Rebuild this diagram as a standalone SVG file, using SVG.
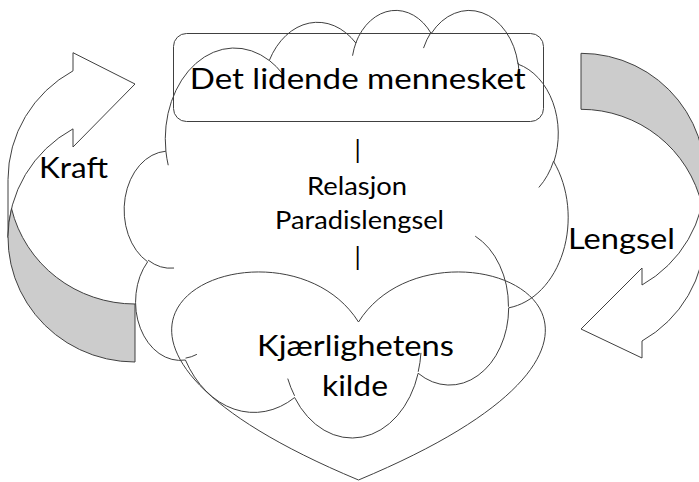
<svg xmlns="http://www.w3.org/2000/svg" width="699" height="482" viewBox="0 0 699 482">
<style>
.ln{fill:none;stroke:#404040;stroke-width:1}
.cl{fill:none;stroke:#404040;stroke-width:1;vector-effect:non-scaling-stroke}
.front{fill:#ffffff;stroke:#404040;stroke-width:1;stroke-linejoin:miter}
.back{fill:#cccccc;stroke:#404040;stroke-width:1}
.t{font-family:Lato,"Liberation Sans",sans-serif;fill:#000;text-anchor:middle}
.big{font-size:28px}
.mid{font-size:25px}
</style>
<rect width="699" height="482" fill="#fff"/>
<g id="connectors">
  <g id="arrow-kraft">
    <path class="front" d="M8 237.5 A127 124.5 0 0 1 73 128.85 L73 147 L135 84 L73 52.7 L73 70.85 A127 124.5 0 0 0 8 179.5 Z"/>
    <path class="back" d="M135 304 A127 124.5 0 0 1 11.5 208.5 A127 124.5 0 0 0 135 362 Z"/>
  </g>
  <g id="arrow-lengsel">
    <path class="front" d="M705.1 177.15 A124.1 123.85 0 0 1 642 285 L642 268 L581 329 L642 358 L642 341 A124.1 123.85 0 0 0 705.1 233.15 Z"/>
    <path class="back" d="M581 109.3 A124.1 123.85 0 0 1 701.9 205.15 A124.1 123.85 0 0 0 581 53.3 Z"/>
  </g>
</g>
<g id="cloud" transform="translate(126 9) scale(0.0102315 0.0098958)">
  <path class="cl" d="M3900 14370 A6753 9190 0 0 1 14005 5202 A5333 7267 0 0 1 22457 3432 A4365 5945 0 0 1 29833 2479 A4857 6595 0 0 1 38318 5573 A5333 7273 0 0 1 41818 15457 A6775 9220 0 0 1 37403 30198 A5785 7867 0 0 1 28555 36809 A6752 9215 0 0 1 16481 39262 A7720 10543 0 0 1 5805 35470 A4360 5918 0 0 1 2114 25547 A4345 5945 0 0 1 3900 14370 Z"/>
  <path class="cl" d="M4693 26177 A4345 5945 0 0 1 2160 25380 M6928 34899 A4360 5918 0 0 1 5819 35281 M16478 39090 A6752 9215 0 0 1 15809 37349 M28827 34751 A6752 9215 0 0 1 28560 36660 M34129 22954 A5785 7867 0 0 1 37381 30090 M41798 15354 A5333 7273 0 0 1 40349 18032 M38324 5426 A4857 6595 0 0 1 38400 6690 M29078 3952 A4857 6595 0 0 1 29820 2340 M22141 4720 A4365 5945 0 0 1 22500 3332 M14000 5192 A6753 9190 0 0 1 15301 6542 M4127 15789 A6753 9190 0 0 1 3900 14370"/>
</g>
<g id="title-box">
  <rect class="ln" x="173.5" y="33.5" width="370" height="88" rx="13" ry="13"/>
  <text class="t big" x="357.7" y="89" textLength="336" lengthAdjust="spacingAndGlyphs">Det lidende mennesket</text>
</g>
<g id="middle-text">
  <text class="t mid" x="357.7" y="159">|</text>
  <text class="t mid" x="357" y="195" textLength="100" lengthAdjust="spacingAndGlyphs">Relasjon</text>
  <text class="t mid" x="359.5" y="229" textLength="169" lengthAdjust="spacingAndGlyphs">Paradislengsel</text>
  <text class="t mid" x="357.7" y="266">|</text>
</g>
<g id="heart">
  <path class="ln" d="M358.5 322 C435.8 199.1 737.2 322 358.5 480 C-20.2 322 281.2 199.1 358.5 322 Z"/>
  <text class="t big" x="355.5" y="356" textLength="197" lengthAdjust="spacingAndGlyphs">Kjærlighetens</text>
  <text class="t big" x="355" y="396" textLength="66" lengthAdjust="spacingAndGlyphs">kilde</text>
</g>
<g id="label-kraft">
  <text class="t big" x="73.5" y="178" textLength="69" lengthAdjust="spacingAndGlyphs">Kraft</text>
</g>
<g id="label-lengsel">
  <text class="t big" x="621.5" y="248.5" textLength="107" lengthAdjust="spacingAndGlyphs">Lengsel</text>
</g>
</svg>
